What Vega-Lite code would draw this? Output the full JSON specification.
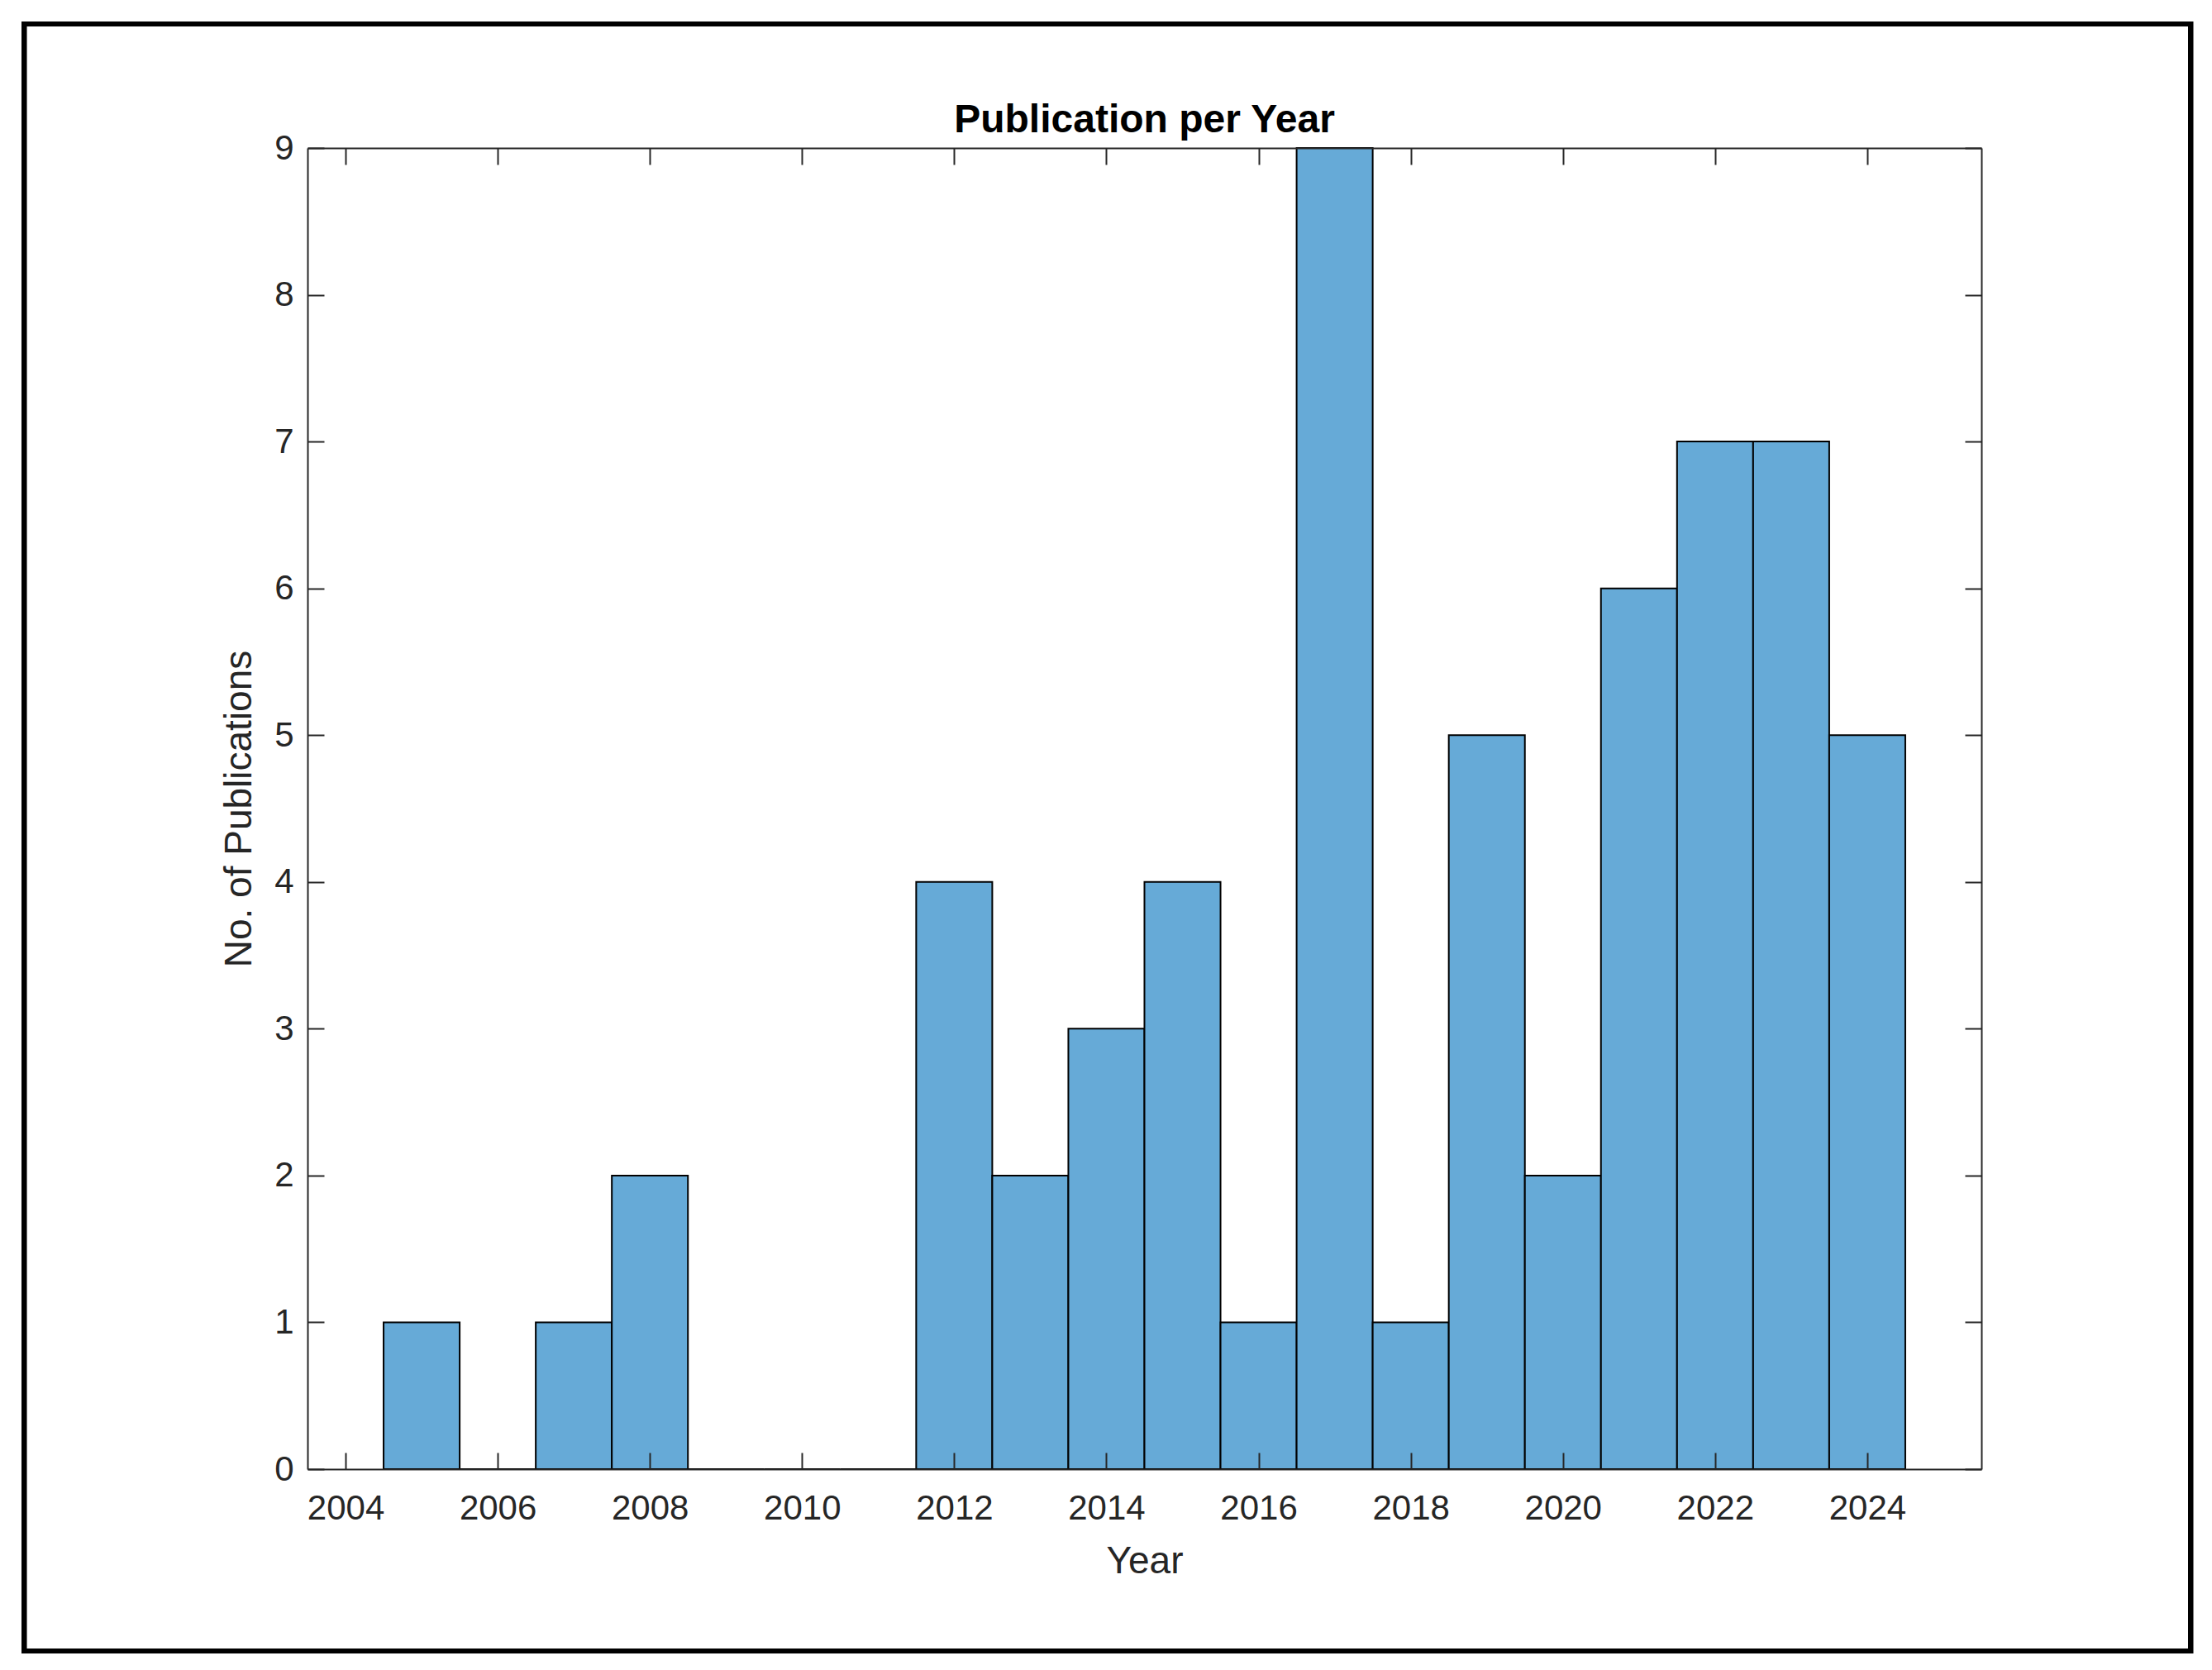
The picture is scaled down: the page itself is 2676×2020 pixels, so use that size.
{
  "$schema": "https://vega.github.io/schema/vega-lite/v6.json",
  "width": 2025,
  "height": 1598,
  "autosize": "none",
  "padding": {"left": 372, "top": 179, "right": 279, "bottom": 243},
  "background": "white",
  "title": {
    "text": "Publication per Year",
    "font": "Liberation Sans",
    "fontSize": 48,
    "fontWeight": "bold",
    "color": "#000000",
    "anchor": "middle",
    "offset": -144
  },
  "data": {
    "values": [
      {"year": 2005, "count": 1},
      {"year": 2006, "count": 0},
      {"year": 2007, "count": 1},
      {"year": 2008, "count": 2},
      {"year": 2009, "count": 0},
      {"year": 2010, "count": 0},
      {"year": 2011, "count": 0},
      {"year": 2012, "count": 4},
      {"year": 2013, "count": 2},
      {"year": 2014, "count": 3},
      {"year": 2015, "count": 4},
      {"year": 2016, "count": 1},
      {"year": 2017, "count": 9},
      {"year": 2018, "count": 1},
      {"year": 2019, "count": 5},
      {"year": 2020, "count": 2},
      {"year": 2021, "count": 6},
      {"year": 2022, "count": 7},
      {"year": 2023, "count": 7},
      {"year": 2024, "count": 5}
    ]
  },
  "layer": [
    {
      "mark": {"type": "rect", "fill": null, "stroke": "#000000", "strokeWidth": 6, "clip": false},
      "encoding": {
        "x": {"datum": 1999.774, "type": "quantitative", "scale": {"domain": [2003.5, 2025.5], "nice": false, "zero": false, "padding": 0}, "axis": null},
        "x2": {"datum": 2028.249},
        "y": {"datum": 9.845, "type": "quantitative", "scale": {"domain": [0, 9], "nice": false, "padding": 0}, "axis": null},
        "y2": {"datum": -1.239}
      }
    },
    {
      "transform": [
        {"bin": {"step": 1, "extent": [2004.5, 2024.5], "nice": false}, "field": "year", "as": ["bin_start", "bin_end"]}
      ],
      "mark": {"type": "bar", "fill": "#66AAD7", "stroke": "#000000", "strokeWidth": 2, "orient": "vertical"},
      "encoding": {
        "x": {
          "field": "bin_start", "type": "quantitative",
          "scale": {"domain": [2003.5, 2025.5], "nice": false, "zero": false, "padding": 0},
          "axis": {
            "orient": "bottom", "title": "Year",
            "values": [2004, 2006, 2008, 2010, 2012, 2014, 2016, 2018, 2020, 2022, 2024],
            "format": "d", "labelPadding": 47, "labelFlush": false, "titlePadding": 21, "zindex": 2
          }
        },
        "x2": {"field": "bin_end"},
        "y": {
          "field": "count", "type": "quantitative",
          "scale": {"domain": [0, 9], "nice": false, "padding": 0},
          "axis": {
            "orient": "left", "title": "No. of Publications",
            "values": [0, 1, 2, 3, 4, 5, 6, 7, 8, 9],
            "format": "d", "labelPadding": 37, "labelFlush": false, "titlePadding": 18, "zindex": 2
          }
        },
        "y2": {"datum": 0}
      }
    },
    {
      "mark": {"type": "point", "opacity": 0},
      "encoding": {
        "x": {
          "field": "year", "type": "quantitative",
          "scale": {"domain": [2003.5, 2025.5], "nice": false, "zero": false, "padding": 0},
          "axis": {
            "orient": "top", "title": null, "labels": false,
            "values": [2004, 2006, 2008, 2010, 2012, 2014, 2016, 2018, 2020, 2022, 2024], "zindex": 2
          }
        },
        "y": {
          "field": "count", "type": "quantitative",
          "scale": {"domain": [0, 9], "nice": false, "padding": 0},
          "axis": {
            "orient": "right", "title": null, "labels": false,
            "values": [0, 1, 2, 3, 4, 5, 6, 7, 8, 9], "zindex": 2
          }
        }
      }
    }
  ],
  "resolve": {"axis": {"x": "independent", "y": "independent"}},
  "config": {
    "view": {"stroke": null},
    "axis": {
      "grid": false,
      "domainColor": "#262626",
      "domainWidth": 2,
      "tickColor": "#262626",
      "tickWidth": 2,
      "tickSize": -20,
      "labelColor": "#262626",
      "labelFont": "Liberation Sans",
      "labelFontSize": 42,
      "titleFont": "Liberation Sans",
      "titleFontSize": 46,
      "titleFontWeight": "normal",
      "titleColor": "#262626"
    }
  }
}
